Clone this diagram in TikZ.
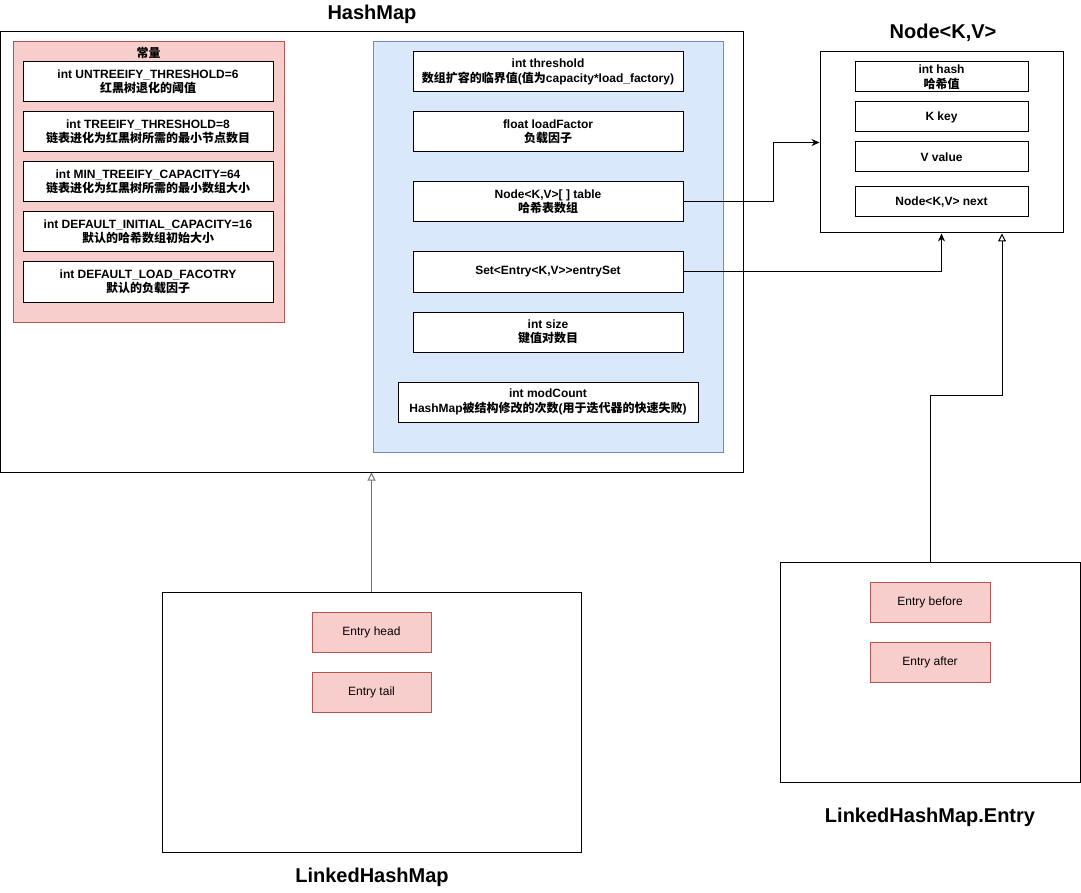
\documentclass[tikz,border=0pt]{standalone}
\usepackage{fontspec}
\setmainfont{Liberation Sans}
\newfontfamily\cjk{Noto Sans CJK SC}
\newcommand{\zh}[1]{{\cjk #1}}
\usetikzlibrary{arrows.meta}
\definecolor{pinkfill}{HTML}{F8CECC}
\definecolor{pinkline}{HTML}{B85450}
\definecolor{bluefill}{HTML}{DAE8FC}
\definecolor{blueline}{HTML}{6C8EBF}
\tikzset{
  box/.style={draw=black, line width=1pt, fill=white, inner sep=0pt, align=center,
    font=\bfseries\fontsize{12}{14.5}\selectfont},
  pinkbox/.style={draw=pinkline, line width=1pt, fill=pinkfill, inner sep=0pt, align=center,
    font=\fontsize{12}{14.5}\selectfont},
  container/.style={draw=black, line width=1pt, fill=white, inner sep=0pt},
  title/.style={font=\bfseries\fontsize{20}{24}\selectfont, inner sep=0pt},
  conn/.style={line width=1pt, -{Stealth[length=8pt,width=7pt]}},
  inherit/.style={line width=1pt, -{Triangle[open,length=8pt,width=8pt,fill=white]}},
}
\begin{document}
\begin{tikzpicture}[x=1pt,y=-1pt]
\useasboundingbox (0,0) rectangle (1081,893);
% HashMap
\node[title] (thm) at (372,14) {HashMap};
\node[container, minimum width=743pt, minimum height=440pt] (hm) at (371.5,252) {};
\node[pinkbox, minimum width=271pt, minimum height=280pt] (const) at (148.5,182) {};
\node[font=\bfseries\fontsize{12}{14}\selectfont, inner sep=0pt] (ctitle) at (148.5,53) {\zh{常量}};
\node[box, minimum width=250pt, minimum height=40pt] (c1) at (148,82) {int UNTREEIFY\_THRESHOLD=6\\\zh{红黑树退化的阈值}};
\node[box, minimum width=250pt, minimum height=40pt] (c2) at (148,132) {int TREEIFY\_THRESHOLD=8\\\zh{链表进化为红黑树所需的最小节点数目}};
\node[box, minimum width=250pt, minimum height=40pt] (c3) at (148,182) {int MIN\_TREEIFY\_CAPACITY=64\\\zh{链表进化为红黑树所需的最小数组大小}};
\node[box, minimum width=250pt, minimum height=40pt] (c4) at (148,232) {int DEFAULT\_INITIAL\_CAPACITY=16\\\zh{默认的哈希数组初始大小}};
\node[box, minimum width=250pt, minimum height=40pt] (c5) at (148,282) {int DEFAULT\_LOAD\_FACOTRY\\\zh{默认的负载因子}};
\node[draw=blueline, line width=1pt, fill=bluefill, inner sep=0pt, minimum width=350pt, minimum height=410pt] (blue) at (548,247) {};
\node[box, minimum width=270pt, minimum height=40pt] (thr) at (548,72) {int threshold\\\zh{数组扩容的临界值}(\zh{值为}capacity*load\_factory)};
\node[box, minimum width=270pt, minimum height=40pt] (lf) at (548,132) {float loadFactor\\\zh{负载因子}};
\node[box, minimum width=270pt, minimum height=40pt] (tab) at (548,202) {Node<K,V>[ ] table\\\zh{哈希表数组}};
\node[box, minimum width=270pt, minimum height=40pt] (es) at (548,272) {Set<Entry<K,V>{}>entrySet};
\node[box, minimum width=270pt, minimum height=40pt] (sz) at (548,332) {int size\\\zh{键值对数目}};
\node[box, minimum width=300pt, minimum height=40pt] (mc) at (548,402) {int modCount\\HashMap\zh{被结构修改的次数}(\zh{用于迭代器的快速失败})};
% Node<K,V>
\node[title] (tnode) at (943,33) {Node<K,V>};
\node[container, minimum width=243pt, minimum height=181pt] (nb) at (941.5,142.5) {};
\node[box, minimum width=173pt, minimum height=30pt] (hash) at (941.5,77) {int hash\\\zh{哈希值}};
\node[box, minimum width=173pt, minimum height=30pt] (key) at (941.5,117) {K key};
\node[box, minimum width=173pt, minimum height=30pt] (val) at (941.5,157) {V value};
\node[box, minimum width=173pt, minimum height=30pt] (next) at (941.5,202) {Node<K,V> next};
% LinkedHashMap
\node[container, minimum width=419pt, minimum height=260pt] (lhm) at (371.5,722) {};
\node[pinkbox, minimum width=119pt, minimum height=40pt] (head) at (371.5,632) {Entry head};
\node[pinkbox, minimum width=119pt, minimum height=40pt] (tail) at (371.5,692) {Entry tail};
\node[title] (tlhm) at (372,877) {LinkedHashMap};
% LinkedHashMap.Entry
\node[container, minimum width=300pt, minimum height=220pt] (lhe) at (930,672) {};
\node[pinkbox, minimum width=120pt, minimum height=40pt] (before) at (930,602) {Entry before};
\node[pinkbox, minimum width=120pt, minimum height=40pt] (after) at (930,662) {Entry after};
\node[title] (tlhe) at (930,817) {LinkedHashMap.Entry};
% connectors
\draw[conn] (tab.east) -- ++(90,0) |- (nb.west);
\draw[conn] (es.east) -| (nb.south);
\draw[inherit] (lhe.north) -- ++(0,-166) -| ([xshift=60.5pt]nb.south);
\draw[inherit, draw=black!55] (lhm.north) -- (lhm.north |- hm.south);
\end{tikzpicture}
\end{document}
